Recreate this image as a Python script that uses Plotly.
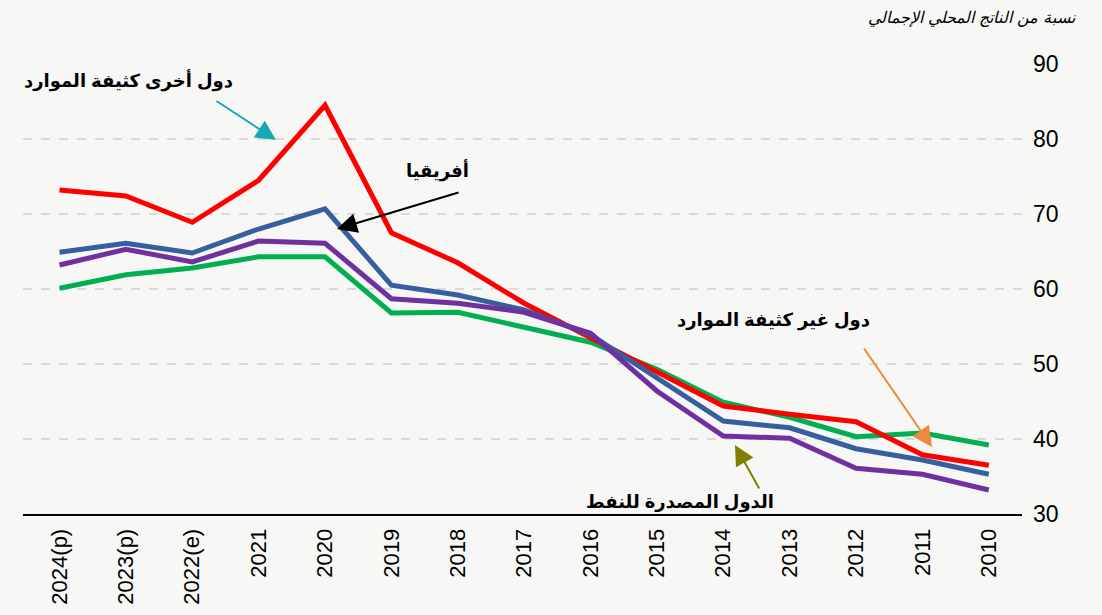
import plotly.graph_objects as go

categories = ["2024(p)", "2023(p)", "2022(e)", "2021", "2020", "2019", "2018", "2017",
              "2016", "2015", "2014", "2013", "2012", "2011", "2010"]
other_resource = [73.2, 72.4, 68.9, 74.5, 84.5, 67.5, 63.5, 58.1, 53.5, 48.9, 44.4, 43.3, 42.3, 37.9, 36.5]
africa = [64.9, 66.1, 64.8, 68.0, 70.7, 60.5, 59.2, 57.2, 53.9, 48.1, 42.4, 41.5, 38.7, 37.2, 35.3]
oil_exporters = [63.2, 65.3, 63.6, 66.4, 66.1, 58.7, 58.1, 56.9, 54.1, 46.4, 40.4, 40.1, 36.1, 35.3, 33.2]
non_resource = [60.1, 61.9, 62.8, 64.3, 64.3, 56.8, 56.9, 54.9, 52.9, 49.3, 44.9, 42.9, 40.3, 40.8, 39.2]
y_ticks = [30, 40, 50, 60, 70, 80, 90]

FONT = "Arial, 'Liberation Sans', 'DejaVu Sans', sans-serif"
BG = "#f7f7f6"

fig = go.Figure()
series = [
    (non_resource, "#00b050", "دول غير كثيفة الموارد"),
    (other_resource, "#ff0000", "دول أخرى كثيفة الموارد"),
    (africa, "#355f9f", "أفريقيا"),
    (oil_exporters, "#7030a0", "الدول المصدرة للنفط"),
]
for vals, col, name in series:
    fig.add_trace(go.Scatter(x=categories, y=vals, mode="lines", name=name,
                             line=dict(color=col, width=5), showlegend=False))

# plot area in pixels
X0, X1, Y0, Y1 = 23, 1022, 64, 514
def px(x):
    return (x - X0) / (X1 - X0)
def py(y):
    return (Y1 - y) / (Y1 - Y0)

anns = []
texts = [
    ("دول أخرى كثيفة الموارد", 128, 80),
    ("أفريقيا", 437, 170),
    ("دول غير كثيفة الموارد", 773, 320),
    ("الدول المصدرة للنفط", 680, 502),
]
for t, x, y in texts:
    anns.append(dict(text="<b>%s</b>" % t, xref="paper", yref="paper", x=px(x), y=py(y),
                     showarrow=False, xanchor="center", yanchor="middle",
                     font=dict(family=FONT, size=18, color="black")))

arrows = [
    ((215, 100), (276, 140), "#17a9b2"),
    ((460, 192), (337, 229), "black"),
    ((863, 347), (932, 447), "#f0883a"),
    ((760, 490), (735, 445), "#808000"),
]
for (tx, ty), (hx, hy), col in arrows:
    anns.append(dict(text="", xref="paper", yref="paper", x=px(hx), y=py(hy),
                     axref="pixel", ayref="pixel", ax=tx - hx, ay=ty - hy,
                     showarrow=True, arrowhead=2, arrowsize=2.0, arrowwidth=2,
                     arrowcolor=col, standoff=0, startstandoff=0))

anns.append(dict(text="<i>نسبة من الناتج المحلي الإجمالي</i>", xref="paper", yref="paper",
                 x=px(1078), y=py(17), xanchor="right", yanchor="middle", showarrow=False,
                 font=dict(family="'DejaVu Serif', serif", size=16, color="black")))

fig.update_layout(
    width=1102, height=615,
    margin=dict(l=X0, r=1102 - X1, t=Y0, b=615 - Y1, autoexpand=False),
    paper_bgcolor=BG, plot_bgcolor=BG,
    annotations=anns,
    xaxis=dict(type="category", range=[-0.55, 14.5], tickangle=-90, automargin=False,
               tickfont=dict(family=FONT, size=22, color="black"),
               showgrid=False, showline=True, linecolor="black", linewidth=2,
               ticks="", ticklen=0, ticklabelstandoff=4),
    yaxis=dict(range=[30, 90], side="right", tickvals=y_ticks, automargin=False,
               tickfont=dict(family=FONT, size=23, color="black"),
               showgrid=True, gridcolor="#d9d9d9", griddash="dash", gridwidth=1.5,
               zeroline=False, showline=False, ticks="", ticklabelstandoff=10),
    font=dict(family=FONT),
)

fig.write_html("out.html", config={"displayModeBar": False},
               post_script="document.body.style.margin='0';document.body.style.overflow='hidden';")
